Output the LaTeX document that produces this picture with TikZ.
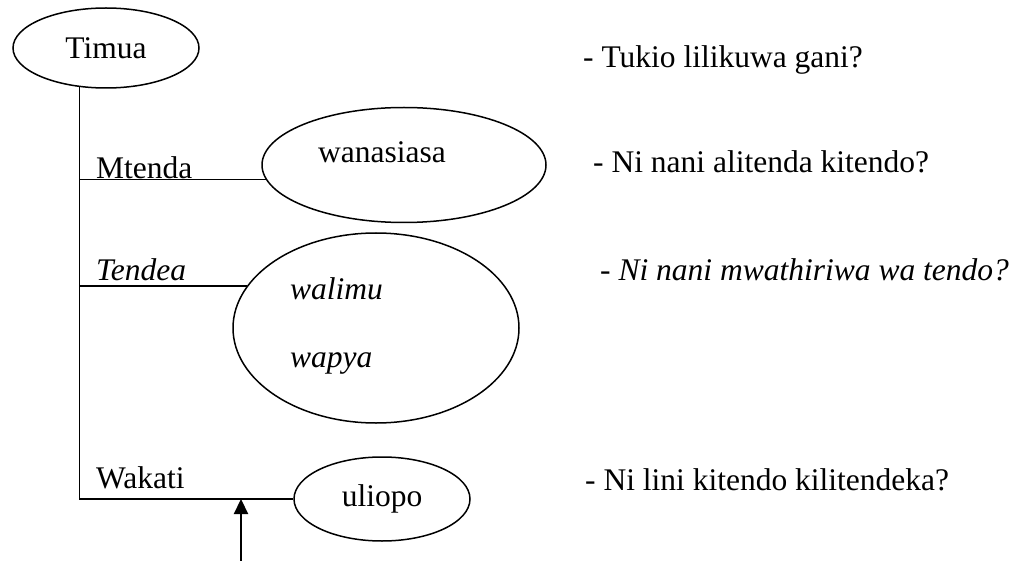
\documentclass[tikz,border=0pt]{standalone}
\usepackage{fontspec}
\setmainfont{Liberation Serif}
\usetikzlibrary{
	shapes.geometric,
	positioning,
	arrows.meta
}
\tikzset{
	blob/.style={draw,ellipse,inner sep=0pt,line width=1.5pt},
	tag/.style={font=\fontsize{31.5}{38}\selectfont},
	word/.style={tag,inner sep=0pt,anchor=base west},
	link/.style={line width=1.5pt}
}

\begin{document}
\begin{tikzpicture}[x=1pt,y=-1pt]
	\useasboundingbox (0,0) rectangle (1019,561);
	\draw
		node [blob,tag,minimum width=186pt,minimum height=80pt]  (timua)     at (106,48)  {Timua}
		node [blob,minimum width=284pt,minimum height=115pt]     (wanasiasa) at (404,165) {}
		node [blob,minimum width=286pt,minimum height=190pt]     (walimu)    at (376,328) {}
		node [blob,tag,minimum width=176pt,minimum height=84pt]  (uliopo)    at (382,499) {uliopo}
	;
	% maneno ndani ya duara
	\node [word] (wanasiasaT) at (318,163) {wanasiasa};
	\node [word] (walimuT)    at (290,299) {\textit{walimu}};
	\node [word] (wapyaT)     at (290,367) {\textit{wapya}};

	% majina ya matawi
	\node [word] (mtenda) at (96,179) {Mtenda};
	\node [word] (tendea) at (96,280) {\textit{Tendea}};
	\node [word] (wakati) at (96,488) {Wakati};

	% maswali
	\node [word] (swali1) at (583,68)  {- Tukio lilikuwa gani?};
	\node [word] (swali2) at (593,173) {- Ni nani alitenda kitendo?};
	\node [word] (swali3) at (600,280) {\textit{- Ni nani mwathiriwa wa tendo?}};
	\node [word] (swali4) at (585,490) {- Ni lini kitendo kilitendeka?};

	\draw[link] (timua.236) |- (uliopo.west);
	\draw[link] (timua.236 |- wanasiasa.186) -- (wanasiasa.186);
	\draw[link] (timua.236 |- walimu.162) -- (walimu.162);

	\coordinate (foot) at (241,561);
	\draw[-{Triangle[length=15pt,width=14pt]},line width=2.2pt] (foot) -- (foot |- uliopo.west);
\end{tikzpicture}
\end{document}
